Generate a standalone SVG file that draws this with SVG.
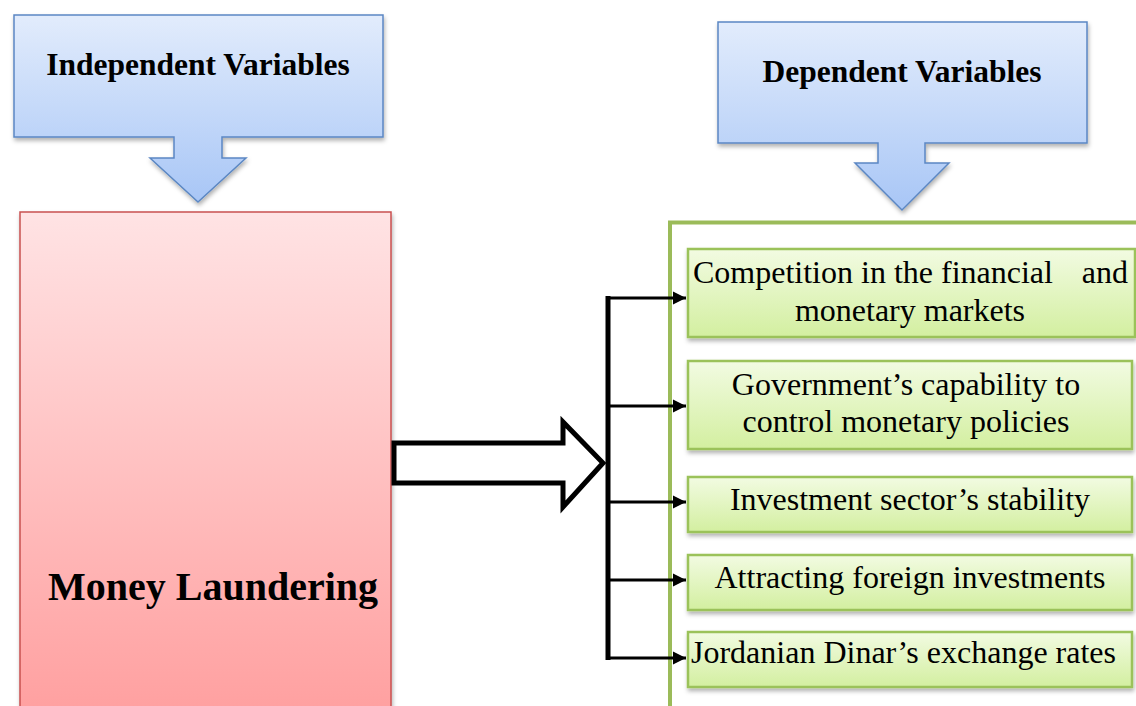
<svg xmlns="http://www.w3.org/2000/svg" width="1136" height="706" viewBox="0 0 1136 706">
<defs>
<linearGradient id="gBlue" x1="0" y1="0" x2="0" y2="1">
<stop offset="0" stop-color="#e2ecfc"/>
<stop offset="1" stop-color="#a8c6f6"/>
</linearGradient>
<linearGradient id="gRed" x1="0" y1="0" x2="0" y2="1">
<stop offset="0" stop-color="#ffe3e4"/>
<stop offset="1" stop-color="#ffa0a0"/>
</linearGradient>
<linearGradient id="gGreen" x1="0" y1="0" x2="0" y2="1">
<stop offset="0" stop-color="#f2fbe2"/>
<stop offset="1" stop-color="#d3efa0"/>
</linearGradient>
<filter id="sh" x="-5%" y="-5%" width="115%" height="130%">
<feDropShadow dx="1" dy="3" stdDeviation="2" flood-color="#000" flood-opacity="0.3"/>
</filter>
<marker id="ah" viewBox="0 0 10 10" refX="10" refY="5" markerWidth="4.5" markerHeight="4.5" markerUnits="strokeWidth" orient="auto">
<path d="M0,0 L10,5 L0,10 Z" fill="#000"/>
</marker>
</defs>
<style>
.callout{fill:url(#gBlue);stroke:#5b87c3;stroke-width:1.5;filter:url(#sh)}
.hdr{font-family:"Liberation Serif","Times New Roman",serif;font-weight:bold;font-size:31.5px;fill:#000}
.box{fill:url(#gGreen);stroke:#9bc25a;stroke-width:2.5;filter:url(#sh)}
.lbl{font-family:"Liberation Serif","Times New Roman",serif;font-size:32px;fill:#000}
.conn{stroke:#000;fill:none}
</style>
<rect width="1136" height="706" fill="#fff"/>
<g id="independent-variables">
<path class="callout" d="M14,15 H383 V137 H222 V158 H246 L198,202 L150,158 H174 V137 H14 Z"/>
<text class="hdr" x="198" y="75" text-anchor="middle">Independent Variables</text>
</g>
<g id="dependent-variables">
<path class="callout" d="M718,22 H1087 V143 H925 V163 H949 L902,210 L855,163 H878 V143 H718 Z"/>
<text class="hdr" x="902" y="82" text-anchor="middle">Dependent Variables</text>
</g>
<g id="money-laundering">
<rect x="20" y="212" width="371" height="500" fill="url(#gRed)" stroke="#c9504f" stroke-width="1.5" filter="url(#sh)"/>
<text x="213" y="600" text-anchor="middle" font-family="'Liberation Serif','Times New Roman',serif" font-weight="bold" font-size="40">Money Laundering</text>
</g>
<g id="frame">
<path d="M670,706 V222.5 H1136" fill="none" stroke="#9bbb59" stroke-width="4"/>
</g>
<g id="connectors">
<path class="conn" stroke-width="5" fill="#fff" d="M394,443 H563 V422 L603,463 L563,507 V483 H394 Z"/>
<path class="conn" stroke-width="5" d="M608,296 V660"/>
<line class="conn" stroke-width="3" x1="608" y1="298" x2="686" y2="298" marker-end="url(#ah)"/>
<line class="conn" stroke-width="3" x1="608" y1="406" x2="686" y2="406" marker-end="url(#ah)"/>
<line class="conn" stroke-width="3" x1="608" y1="502" x2="686" y2="502" marker-end="url(#ah)"/>
<line class="conn" stroke-width="3" x1="608" y1="580" x2="686" y2="580" marker-end="url(#ah)"/>
<line class="conn" stroke-width="3" x1="608" y1="658" x2="686" y2="658" marker-end="url(#ah)"/>
</g>
<g id="competition">
<rect class="box" x="688" y="249" width="447" height="88"/>
<text class="lbl" x="693" y="283">Competition in the financial</text>
<text class="lbl" x="1128" y="283" text-anchor="end">and</text>
<text class="lbl" x="910" y="321" text-anchor="middle">monetary markets</text>
</g>
<g id="government">
<rect class="box" x="688" y="361" width="444" height="88"/>
<text class="lbl" x="906" y="395" text-anchor="middle">Government’s capability to</text>
<text class="lbl" x="906" y="432" text-anchor="middle">control monetary policies</text>
</g>
<g id="investment-sector">
<rect class="box" x="688" y="477" width="444" height="55"/>
<text class="lbl" x="910" y="510" text-anchor="middle">Investment sector’s stability</text>
</g>
<g id="foreign-investments">
<rect class="box" x="688" y="555" width="444" height="55"/>
<text class="lbl" x="910" y="588" text-anchor="middle">Attracting foreign investments</text>
</g>
<g id="exchange-rates">
<rect class="box" x="688" y="632" width="444" height="55"/>
<text class="lbl" x="691" y="663">Jordanian Dinar’s exchange rates</text>
</g>
</svg>
